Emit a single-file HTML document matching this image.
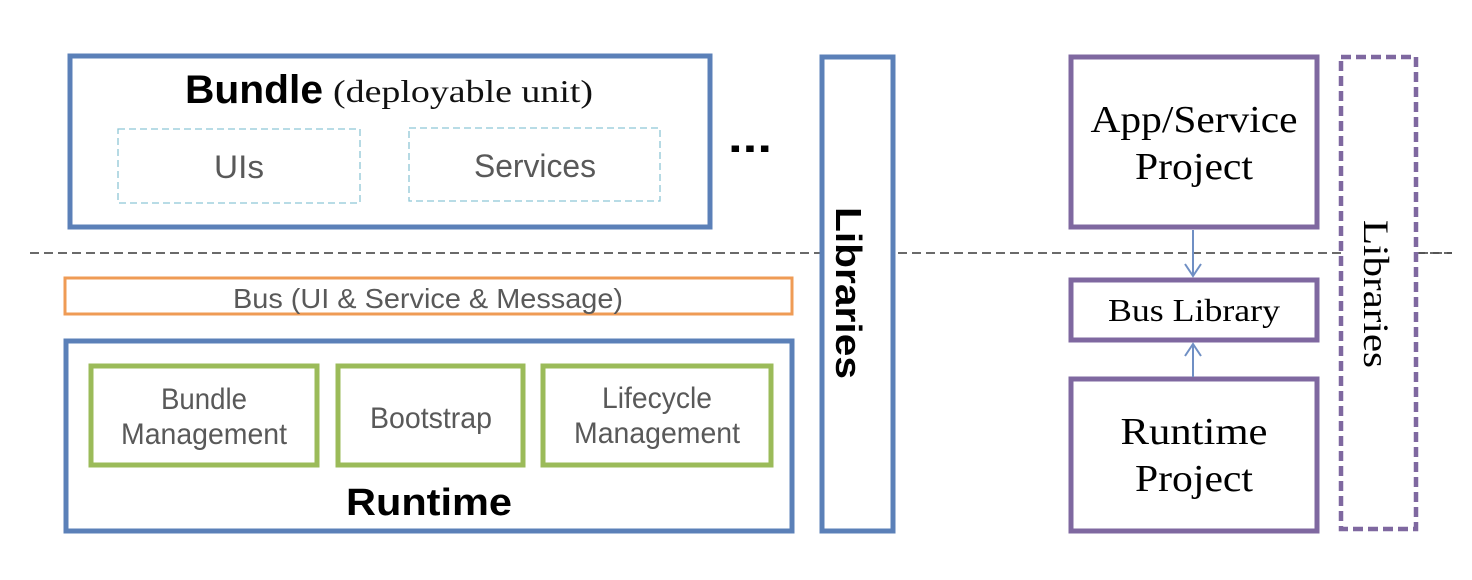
<!DOCTYPE html>
<html><head><meta charset="utf-8"><style>html,body{margin:0;padding:0;background:#fff}svg{display:block}</style></head>
<body>
<svg width="1472" height="580" viewBox="0 0 1472 580" xmlns="http://www.w3.org/2000/svg">
<rect width="1472" height="580" fill="#fff"/>
<line x1="30" y1="253" x2="1452" y2="253" stroke="#111" stroke-width="1.3" stroke-dasharray="9,5"/>
<!-- Bundle -->
<rect x="70" y="56" width="640" height="171" fill="#fff" stroke="#5b80b8" stroke-width="5"/>
<text x="185" y="103" font-family="Liberation Sans, sans-serif" font-size="40" font-weight="bold" fill="#000" textLength="138" lengthAdjust="spacingAndGlyphs">Bundle</text>
<text x="333" y="102" font-family="Liberation Serif, serif" font-size="32" fill="#111" textLength="260" lengthAdjust="spacingAndGlyphs">(deployable unit)</text>
<rect x="118" y="129" width="242" height="74" fill="none" stroke="#8ec6d6" stroke-width="1.3" stroke-dasharray="7,4"/>
<text x="239" y="178" text-anchor="middle" font-family="Liberation Sans, sans-serif" font-size="32" fill="#595959" textLength="50" lengthAdjust="spacingAndGlyphs">UIs</text>
<rect x="409" y="128" width="251" height="73" fill="none" stroke="#8ec6d6" stroke-width="1.3" stroke-dasharray="7,4"/>
<text x="535" y="177" text-anchor="middle" font-family="Liberation Sans, sans-serif" font-size="32" fill="#595959" textLength="122" lengthAdjust="spacingAndGlyphs">Services</text>
<text x="750" y="152" text-anchor="middle" font-family="Liberation Sans, sans-serif" font-size="44" font-weight="bold" fill="#000" textLength="44" lengthAdjust="spacingAndGlyphs">...</text>
<!-- Bus -->
<rect x="65" y="278" width="727" height="36" fill="#fff" stroke="#ef9b55" stroke-width="3"/>
<text x="428" y="308" text-anchor="middle" font-family="Liberation Sans, sans-serif" font-size="28" fill="#595959" textLength="390" lengthAdjust="spacingAndGlyphs">Bus (UI &amp; Service &amp; Message)</text>
<!-- Runtime -->
<rect x="66" y="341" width="726" height="190" fill="#fff" stroke="#5b80b8" stroke-width="5"/>
<rect x="91" y="366" width="226" height="99" fill="#fff" stroke="#9bbb59" stroke-width="5"/>
<text x="204" y="409" text-anchor="middle" font-family="Liberation Sans, sans-serif" font-size="30" fill="#595959" textLength="86" lengthAdjust="spacingAndGlyphs">Bundle</text>
<text x="204" y="444" text-anchor="middle" font-family="Liberation Sans, sans-serif" font-size="30" fill="#595959" textLength="166" lengthAdjust="spacingAndGlyphs">Management</text>
<rect x="338" y="366" width="185" height="99" fill="#fff" stroke="#9bbb59" stroke-width="5"/>
<text x="431" y="428" text-anchor="middle" font-family="Liberation Sans, sans-serif" font-size="30" fill="#595959" textLength="122" lengthAdjust="spacingAndGlyphs">Bootstrap</text>
<rect x="543" y="366" width="228" height="99" fill="#fff" stroke="#9bbb59" stroke-width="5"/>
<text x="657" y="408" text-anchor="middle" font-family="Liberation Sans, sans-serif" font-size="30" fill="#595959" textLength="110" lengthAdjust="spacingAndGlyphs">Lifecycle</text>
<text x="657" y="443" text-anchor="middle" font-family="Liberation Sans, sans-serif" font-size="30" fill="#595959" textLength="166" lengthAdjust="spacingAndGlyphs">Management</text>
<text x="429" y="515" text-anchor="middle" font-family="Liberation Sans, sans-serif" font-size="38" font-weight="bold" fill="#000" textLength="166" lengthAdjust="spacingAndGlyphs">Runtime</text>
<!-- Libraries left -->
<rect x="822" y="57" width="71" height="474" fill="#fff" stroke="#5b80b8" stroke-width="5"/>
<text transform="translate(836,293) rotate(90)" text-anchor="middle" font-family="Liberation Sans, sans-serif" font-size="36" font-weight="bold" fill="#000" textLength="172" lengthAdjust="spacingAndGlyphs">Libraries</text>
<!-- Right side -->
<rect x="1071" y="57" width="246" height="170" fill="#fff" stroke="#7f68a0" stroke-width="5"/>
<text x="1194" y="132" text-anchor="middle" font-family="Liberation Serif, serif" font-size="38" fill="#000" textLength="207" lengthAdjust="spacingAndGlyphs">App/Service</text>
<text x="1194" y="179" text-anchor="middle" font-family="Liberation Serif, serif" font-size="38" fill="#000" textLength="118" lengthAdjust="spacingAndGlyphs">Project</text>
<rect x="1071" y="280" width="246" height="60" fill="#fff" stroke="#7f68a0" stroke-width="5"/>
<text x="1194" y="321" text-anchor="middle" font-family="Liberation Serif, serif" font-size="32" fill="#000" textLength="172" lengthAdjust="spacingAndGlyphs">Bus Library</text>
<rect x="1071" y="379" width="246" height="152" fill="#fff" stroke="#7f68a0" stroke-width="5"/>
<text x="1194" y="444" text-anchor="middle" font-family="Liberation Serif, serif" font-size="38" fill="#000" textLength="147" lengthAdjust="spacingAndGlyphs">Runtime</text>
<text x="1194" y="491" text-anchor="middle" font-family="Liberation Serif, serif" font-size="38" fill="#000" textLength="118" lengthAdjust="spacingAndGlyphs">Project</text>
<g stroke="#6f8fc4" stroke-width="2" fill="none">
<line x1="1193" y1="230" x2="1193" y2="276"/>
<polyline points="1185,264 1193,276 1201,264"/>
<line x1="1193" y1="377" x2="1193" y2="344"/>
<polyline points="1185,356 1193,344 1201,356"/>
</g>
<rect x="1341" y="57" width="75" height="472" fill="#fff" stroke="#7f68a0" stroke-width="4.5" stroke-dasharray="10,5"/>
<text transform="translate(1364,294) rotate(90)" text-anchor="middle" font-family="Liberation Serif, serif" font-size="36" fill="#000" textLength="148" lengthAdjust="spacingAndGlyphs">Libraries</text>
<line x1="1419" y1="253" x2="1452" y2="253" stroke="#111" stroke-width="1.3" stroke-dasharray="9,5"/>
</svg>
</body></html>
